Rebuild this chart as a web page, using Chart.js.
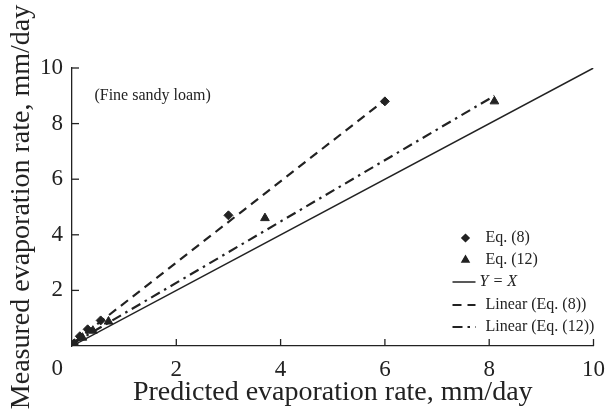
<!DOCTYPE html>
<html lang="en">
<head>
    <meta charset="UTF-8">
    <title>Measured vs predicted evaporation</title>
    <script src="https://cdn.jsdelivr.net/npm/chart.js"></script>
    <style>
        body {
            margin: 0;
            background-color: white;
        }

        #evapChart {
            display: block;
        }
    </style>
</head>
<body>
    <canvas id="evapChart" width="615" height="410"></canvas>

    <script>
        // data (fine sandy loam)
        const eq8X = [0.03, 0.15, 0.3, 0.55, 3.0, 6.0];
        const eq8Y = [0.08, 0.35, 0.6, 0.92, 4.7, 8.8];
        const eq12X = [0.05, 0.2, 0.4, 0.7, 3.7, 8.1];
        const eq12Y = [0.08, 0.3, 0.55, 0.88, 4.6, 8.8];
        const identityX = [0, 10];
        const identityY = [0, 10];
        const trend8X = [0.03, 6.0];
        const trend8Y = [0.12, 8.85];
        const trend12X = [0.03, 8.1];
        const trend12Y = [0.1, 9.0];
        const tickValues = [0, 2, 4, 6, 8, 10];
        const seriesLabels = ['Eq. (8)', 'Eq. (12)', 'Y = X', 'Linear (Eq. (8))', 'Linear (Eq. (12))'];
        const soilLabel = '(Fine sandy loam)';

        const serif = "'Liberation Serif', 'DejaVu Serif', serif";

        function toPoints(xs, ys) {
            return xs.map((x, i) => ({ x: x, y: ys[i] }));
        }

        // inward tick marks, shared "0" at the corner, soil note and legend
        const decorPlugin = {
            id: 'decor',
            afterDatasetsDraw(chart) {
                const ctx = chart.ctx;
                const xs = chart.scales.x;
                const ys = chart.scales.y;
                const area = chart.chartArea;

                ctx.save();
                ctx.strokeStyle = '#222';
                ctx.lineWidth = 1.3;
                tickValues.forEach(v => {
                    if (v === 0) return;
                    const px = xs.getPixelForValue(v);
                    ctx.beginPath();
                    ctx.moveTo(px, area.bottom);
                    ctx.lineTo(px, area.bottom - 7);
                    ctx.stroke();
                    const py = ys.getPixelForValue(v);
                    ctx.beginPath();
                    ctx.moveTo(area.left, py);
                    ctx.lineTo(area.left + 7, py);
                    ctx.stroke();
                });

                ctx.fillStyle = '#222';
                ctx.font = '23px ' + serif;
                ctx.textAlign = 'right';
                ctx.textBaseline = 'middle';
                ctx.fillText('0', area.left - 9, area.bottom + 23);

                ctx.font = '16px ' + serif;
                ctx.textAlign = 'left';
                ctx.fillText(soilLabel, xs.getPixelForValue(0.43), ys.getPixelForValue(9.0));

                // legend
                const sets = chart.data.datasets;
                const sx = area.right - 141;
                const rowY = [238, 260, 282, 305, 327];
                sets.forEach((ds, i) => {
                    const y = rowY[i];
                    ctx.save();
                    if (ds.showLine) {
                        ctx.strokeStyle = ds.borderColor;
                        ctx.lineWidth = ds.borderWidth;
                        ctx.setLineDash(ds.borderDash || []);
                        ctx.beginPath();
                        ctx.moveTo(sx, y);
                        ctx.lineTo(sx + 23, y);
                        ctx.stroke();
                    } else {
                        Chart.helpers.drawPoint(ctx, {
                            pointStyle: ds.pointStyle,
                            radius: ds.pointRadius - 0.8,
                            borderWidth: 1
                        }, sx + 13, y);
                        ctx.fillStyle = '#222';
                        ctx.fill();
                    }
                    ctx.restore();
                    ctx.fillStyle = '#222';
                    ctx.textAlign = 'left';
                    ctx.textBaseline = 'middle';
                    if (i === 2) {
                        ctx.font = 'italic 16px ' + serif;
                        ctx.fillText(ds.label, sx + 27, y);
                    } else {
                        ctx.font = '16px ' + serif;
                        ctx.fillText(ds.label, sx + 33, y);
                    }
                });
                ctx.restore();
            }
        };

        const ctx = document.getElementById('evapChart').getContext('2d');
        new Chart(ctx, {
            type: 'scatter',
            data: {
                datasets: [
                    {
                        label: seriesLabels[0],
                        data: toPoints(eq8X, eq8Y),
                        pointStyle: 'rectRot',
                        pointRadius: 4.5,
                        backgroundColor: '#222',
                        borderColor: '#222',
                        showLine: false
                    },
                    {
                        label: seriesLabels[1],
                        data: toPoints(eq12X, eq12Y),
                        pointStyle: 'triangle',
                        pointRadius: 5,
                        backgroundColor: '#222',
                        borderColor: '#222',
                        showLine: false
                    },
                    {
                        label: seriesLabels[2],
                        data: toPoints(identityX, identityY),
                        showLine: true,
                        pointRadius: 0,
                        borderColor: '#222',
                        borderWidth: 1.5
                    },
                    {
                        label: seriesLabels[3],
                        data: toPoints(trend8X, trend8Y),
                        showLine: true,
                        pointRadius: 0,
                        borderColor: '#222',
                        borderWidth: 2.2,
                        borderDash: [9, 6]
                    },
                    {
                        label: seriesLabels[4],
                        data: toPoints(trend12X, trend12Y),
                        showLine: true,
                        pointRadius: 0,
                        borderColor: '#222',
                        borderWidth: 2.2,
                        borderDash: [10, 5, 2.5, 5]
                    }
                ]
            },
            options: {
                responsive: false,
                animation: false,
                layout: {
                    padding: { top: 68, right: 12, left: 0, bottom: 0 }
                },
                plugins: {
                    legend: { display: false },
                    tooltip: { enabled: false }
                },
                scales: {
                    x: {
                        type: 'linear',
                        min: 0,
                        max: 10,
                        afterFit: s => { s.height = 64; },
                        afterBuildTicks: s => { s.ticks = tickValues.map(v => ({ value: v })); },
                        grid: { display: false, drawTicks: false },
                        border: { display: true, color: '#222', width: 1.3 },
                        ticks: {
                            color: '#222',
                            padding: 10,
                            maxRotation: 0,
                            font: { family: serif, size: 23 },
                            callback: v => (v === 0 ? '' : v)
                        },
                        title: {
                            display: true,
                            text: 'Predicted evaporation rate, mm/day',
                            color: '#222',
                            font: { family: serif, size: 28 },
                            padding: { top: 0, bottom: 1 }
                        }
                    },
                    y: {
                        type: 'linear',
                        min: 0,
                        max: 10,
                        afterFit: s => { s.width = 72; },
                        afterBuildTicks: s => { s.ticks = tickValues.map(v => ({ value: v })); },
                        grid: { display: false, drawTicks: false },
                        border: { display: true, color: '#222', width: 1.3 },
                        ticks: {
                            color: '#222',
                            padding: 9,
                            font: { family: serif, size: 23 },
                            callback: v => (v === 0 ? '' : v)
                        },
                        title: {
                            display: true,
                            text: 'Measured evaporation rate, mm/day',
                            color: '#222',
                            font: { family: serif, size: 28 },
                            padding: { top: 5, bottom: 0 }
                        }
                    }
                }
            },
            plugins: [decorPlugin]
        });
    </script>
</body>
</html>
